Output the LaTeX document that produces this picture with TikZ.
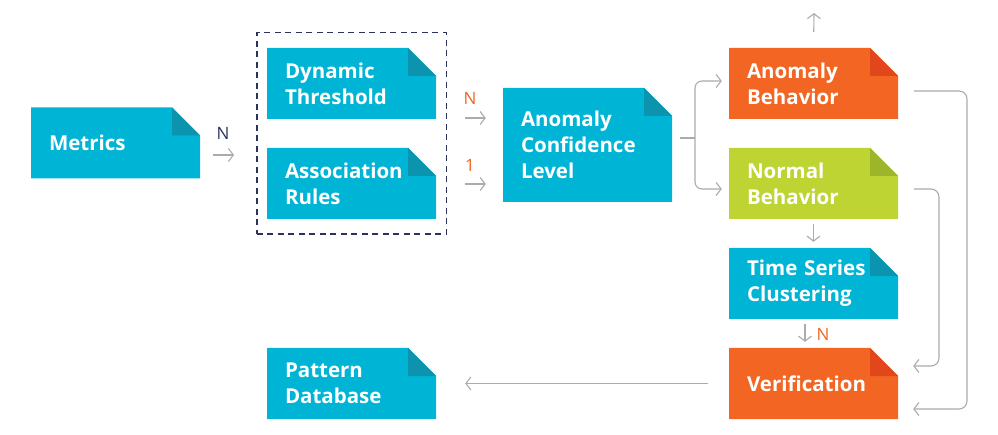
\documentclass[tikz,border=0pt]{standalone}
\usepackage{fontspec}
\setmainfont{Open Sans}
\usetikzlibrary{arrows.meta,fit,calc}
\definecolor{cy}{HTML}{00B4D5}
\definecolor{cyd}{HTML}{0C93AD}
\definecolor{org}{HTML}{F26522}
\definecolor{orgd}{HTML}{E2461B}
\definecolor{grn}{HTML}{BDD432}
\definecolor{grnd}{HTML}{9CB52B}
\definecolor{navy}{HTML}{2B325E}
\definecolor{arrgray}{HTML}{ABABAB}
\begin{document}
\begin{tikzpicture}[x=1pt,y=-1pt,
  note/.style 2 args={text=white,
    font=\fontsize{20.5}{26}\selectfont\bfseries,
    minimum width=169pt, minimum height=71pt,
    inner xsep=18pt, inner ysep=0pt, text width=133pt, align=left,
    path picture={
      \fill[#1] (path picture bounding box.south west) -- (path picture bounding box.north west)
        -- ([xshift=-28pt]path picture bounding box.north east)
        -- ([yshift=-28pt]path picture bounding box.north east)
        -- (path picture bounding box.south east) -- cycle;
      \fill[#2] ([xshift=-28pt]path picture bounding box.north east)
        -- ([xshift=-28pt,yshift=-28pt]path picture bounding box.north east)
        -- ([yshift=-28pt]path picture bounding box.north east) -- cycle;
    }},
  cynote/.style={note={cy}{cyd}},
  ornote/.style={note={org}{orgd}},
  grnote/.style={note={grn}{grnd}},
  arr/.style={draw=arrgray, line width=1.1pt, -{Straight Barb[length=5pt,width=13pt]}},
  plain/.style={draw=arrgray, line width=1.1pt},
  lab/.style={font=\fontsize{17}{19}\selectfont, inner sep=0pt},
  dashbox/.style={draw=navy, line width=1.4pt, dash pattern=on 6pt off 4.5pt, inner xsep=10pt, inner ysep=15pt}
]
\useasboundingbox (0,0) rectangle (998,435);

\node[cynote] (metrics) at (115.5,143) {Metrics};
\node[cynote] (dyn) at (351.5,83.5) {Dynamic\\Threshold};
\node[cynote] (assoc) at (351.5,183.5) {Association\\Rules};
\node[cynote, minimum height=114pt] (acl) at (587.5,145) {Anomaly\\Confidence\\Level};
\node[ornote] (anom) at (813.5,83.5) {Anomaly\\Behavior};
\node[grnote] (normal) at (813.5,183.5) {Normal\\Behavior};
\node[cynote] (tsc) at (813.5,283.5) {Time Series\\Clustering};
\node[ornote] (verif) at (813.5,383.5) {Verification};
\node[cynote] (pattern) at (351.5,383.5) {Pattern\\Database};

\node[dashbox, fit=(dyn)(assoc)] (group) {};

\coordinate (up) at (814,13);

% Metrics -> group
\draw[arr, shorten <=13pt, shorten >=22pt] (metrics.east |- 0,155) -- (group.west |- 0,155);
\node[lab, text=navy] (lN) at (223,133) {N};

% group -> ACL
\draw[arr, shorten <=18pt, shorten >=17pt] (group.east |- 0,118) -- (acl.west |- 0,118);
\node[lab, text=org] (lN2) at (470,98) {N};
\draw[arr, shorten <=18pt, shorten >=17pt] (group.east |- 0,184) -- (acl.west |- 0,184);
\node[lab, text=org] (l1) at (470,165) {1};

% ACL branches
\coordinate (j) at (695,138);
\draw[plain, shorten <=8pt] (acl.east |- j) -- (j);
\draw[arr, rounded corners=7pt, shorten >=7pt] (j) |- (anom.west |- 0,81);
\draw[arr, rounded corners=7pt, shorten >=7pt] (j) |- (normal.west |- 0,189);

% up arrow
\draw[arr, shorten <=16pt] (anom.north) -- (up);

% Anomaly -> Verification
\draw[arr, rounded corners=8pt] ([xshift=16pt]anom.east |- 0,91) -- (967,91) -- (967,409) -- ([xshift=15pt]verif.east |- 0,409);
% Normal -> Verification
\draw[arr, rounded corners=8pt] ([xshift=16pt]normal.east |- 0,189) -- (939,189) -- (939,366) -- ([xshift=15pt]verif.east |- 0,366);

% Normal -> TSC
\draw[arr, shorten <=5pt, shorten >=6pt] (normal.south) -- (tsc.north);
% TSC -> Verification
\draw[arr, shorten <=5pt, shorten >=6pt] (tsc.south -| 805,0) -- (verif.north -| 805,0);
\node[lab, text=org] (lN3) at (823,334) {N};

% Verification -> Pattern
\draw[arr, shorten <=21pt, shorten >=29pt] (verif.west) -- (pattern.east);
\end{tikzpicture}
\end{document}
